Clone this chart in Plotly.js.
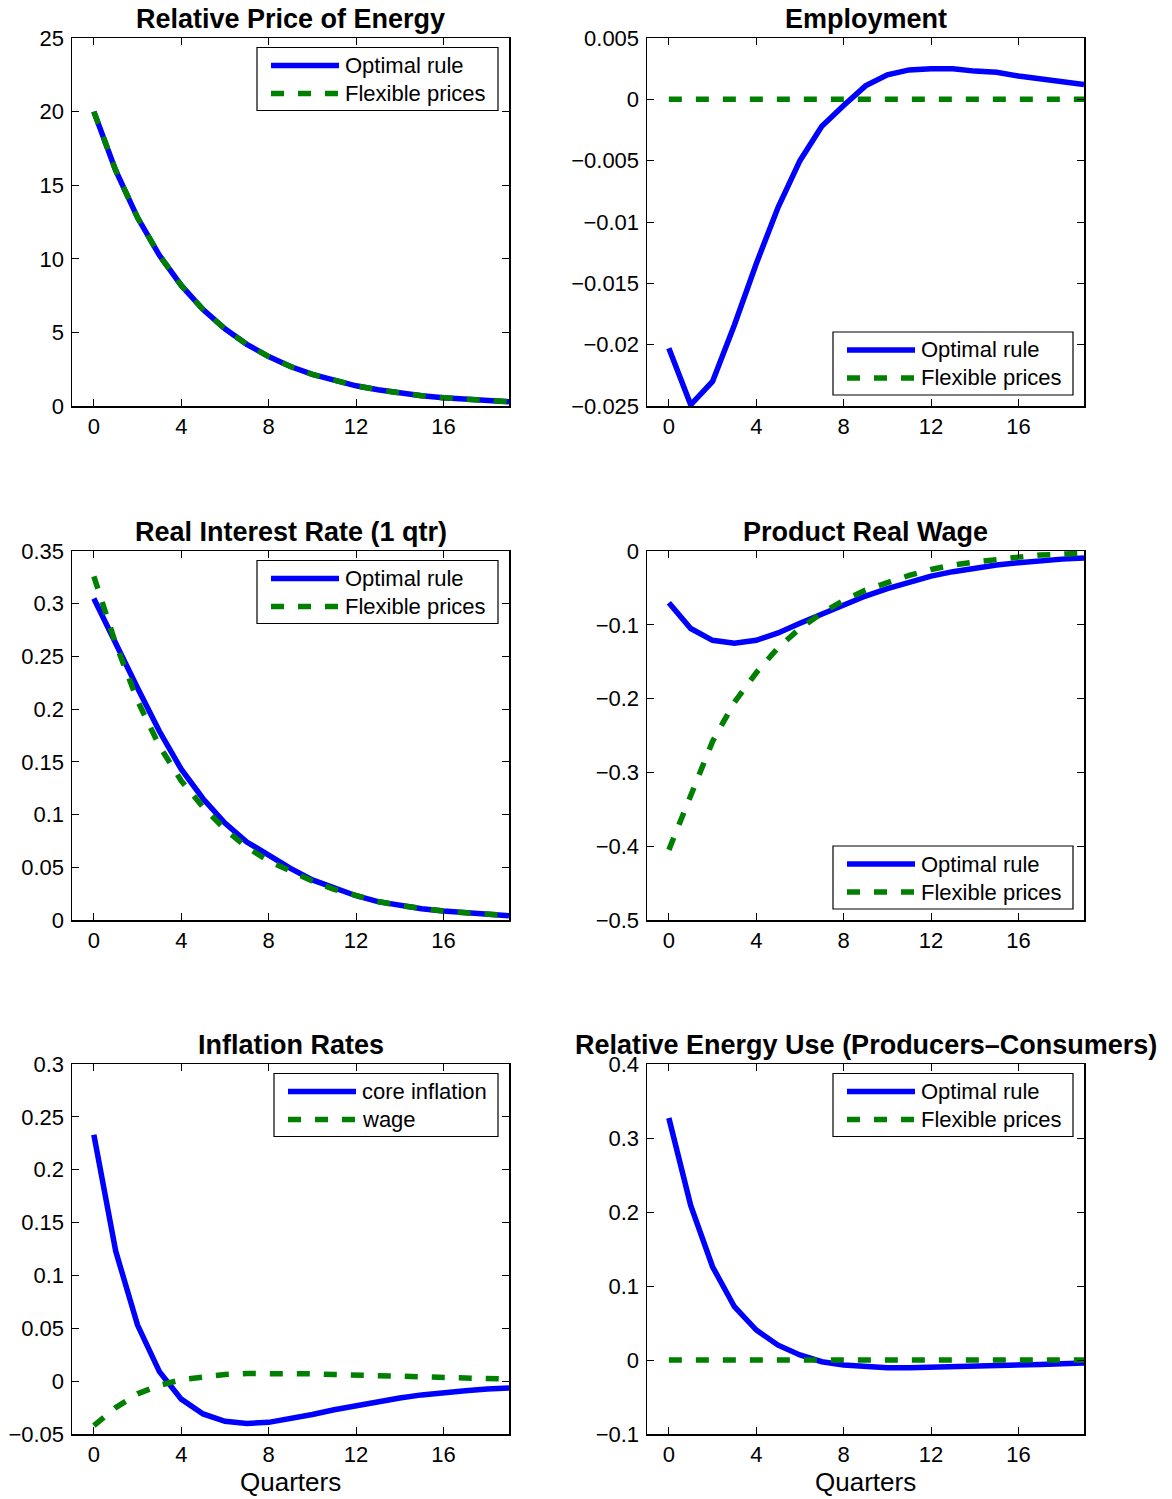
<!DOCTYPE html>
<html>
<head>
<meta charset="utf-8">
<script src="https://cdn.plot.ly/plotly-3.0.1.min.js"></script>
<style>
html,body{margin:0;padding:0;background:#ffffff;}
#chart{width:1172px;height:1499px;}
</style>
</head>
<body>
<div id="chart"></div>
<script>
// ---------------- data ----------------
const quarters = [0,1,2,3,4,5,6,7,8,9,10,11,12,13,14,15,16,17,18,19];

const energyPriceOptimal  = [20.00,16.00,12.80,10.24,8.19,6.55,5.24,4.19,3.36,2.68,2.15,1.72,1.37,1.10,0.88,0.70,0.56,0.45,0.36,0.29];
const energyPriceFlexible = [20.00,16.00,12.80,10.24,8.19,6.55,5.24,4.19,3.36,2.68,2.15,1.72,1.37,1.10,0.88,0.70,0.56,0.45,0.36,0.29];

const employmentOptimal  = [-0.0203,-0.0249,-0.0230,-0.0184,-0.0134,-0.0088,-0.0050,-0.0022,-0.0005,0.0011,0.0020,0.0024,0.0025,0.0025,0.0023,0.0022,0.0019,0.0017,0.0015,0.0012];
const employmentFlexible = [0,0,0,0,0,0,0,0,0,0,0,0,0,0,0,0,0,0,0,0];

const realRateOptimal  = [0.305,0.262,0.220,0.179,0.143,0.115,0.092,0.074,0.061,0.049,0.038,0.030,0.023,0.0174,0.0136,0.0107,0.0085,0.0069,0.0054,0.0041];
const realRateFlexible = [0.326,0.262,0.208,0.165,0.132,0.107,0.086,0.069,0.056,0.046,0.037,0.029,0.023,0.0175,0.0137,0.0107,0.0085,0.0068,0.0054,0.0042];

const realWageOptimal  = [-0.070,-0.105,-0.121,-0.125,-0.121,-0.111,-0.098,-0.085,-0.073,-0.061,-0.051,-0.042,-0.034,-0.028,-0.023,-0.019,-0.016,-0.013,-0.011,-0.0095];
const realWageFlexible = [-0.405,-0.330,-0.258,-0.205,-0.165,-0.131,-0.105,-0.084,-0.067,-0.053,-0.042,-0.033,-0.025,-0.019,-0.015,-0.011,-0.0083,-0.0055,-0.0045,-0.003];

const coreInflation = [0.233,0.123,0.053,0.009,-0.017,-0.031,-0.038,-0.040,-0.039,-0.0355,-0.0315,-0.027,-0.023,-0.019,-0.016,-0.013,-0.0105,-0.009,-0.0075,-0.0065];
const wageInflation = [-0.042,-0.025,-0.012,-0.004,0.0013,0.0044,0.0063,0.0072,0.0075,0.0072,0.0069,0.0063,0.0057,0.0050,0.0044,0.0038,0.0031,0.0026,0.0022,0.0019];

const energyUseOptimal  = [0.327,0.209,0.126,0.072,0.0405,0.020,0.0068,-0.0023,-0.0068,-0.009,-0.0104,-0.0104,-0.0099,-0.0095,-0.0086,-0.0077,-0.0068,-0.006,-0.005,-0.0041];
const energyUseFlexible = [0,0,0,0,0,0,0,0,0,0,0,0,0,0,0,0,0,0,0,0];

const panelTitles = ["Relative Price of Energy","Employment","Real Interest Rate (1 qtr)","Product Real Wage","Inflation Rates","Relative Energy Use (Producers\u2013Consumers)"];
const seriesNamesPolicy = ["Optimal rule","Flexible prices"];
const seriesNamesInflation = ["core inflation","wage"];
const xAxisLabel = "Quarters";

const xTickVals = [0,4,8,12,16];
const xTickText = ["0","4","8","12","16"];

const yTickVals1 = [0,5,10,15,20,25];
const yTickText1 = ["0","5","10","15","20","25"];
const yTickVals2 = [-0.025,-0.02,-0.015,-0.01,-0.005,0,0.005];
const yTickText2 = ["\u22120.025","\u22120.02","\u22120.015","\u22120.01","\u22120.005","0","0.005"];
const yTickVals3 = [0,0.05,0.1,0.15,0.2,0.25,0.3,0.35];
const yTickText3 = ["0","0.05","0.1","0.15","0.2","0.25","0.3","0.35"];
const yTickVals4 = [-0.5,-0.4,-0.3,-0.2,-0.1,0];
const yTickText4 = ["\u22120.5","\u22120.4","\u22120.3","\u22120.2","\u22120.1","0"];
const yTickVals5 = [-0.05,0,0.05,0.1,0.15,0.2,0.25,0.3];
const yTickText5 = ["\u22120.05","0","0.05","0.1","0.15","0.2","0.25","0.3"];
const yTickVals6 = [-0.1,0,0.1,0.2,0.3,0.4];
const yTickText6 = ["\u22120.1","0","0.1","0.2","0.3","0.4"];

// ---------------- layout helpers ----------------
const W = 1172, H = 1499;
const px = v => v / W;
const py = v => 1 - v / H;
const colLeft = [72, 647], colRight = [509, 1084];
const rowTop = [38, 551, 1064], rowBottom = [406, 920, 1434];
const FONT = "Liberation Sans, Arial, Helvetica, sans-serif";
const BLUE = "#0000ff", GREEN = "#008000";
const LW = 5.5;
const DASH = "13px,14px";

const panels = [
  {series:[energyPriceOptimal, energyPriceFlexible], names:seriesNamesPolicy, yr:[0,25], tv:yTickVals1, tt:yTickText1, leg:"top", legW:241},
  {series:[employmentOptimal, employmentFlexible], names:seriesNamesPolicy, yr:[-0.025,0.005], tv:yTickVals2, tt:yTickText2, leg:"bottom", legW:240},
  {series:[realRateOptimal, realRateFlexible], names:seriesNamesPolicy, yr:[0,0.35], tv:yTickVals3, tt:yTickText3, leg:"top", legW:241},
  {series:[realWageOptimal, realWageFlexible], names:seriesNamesPolicy, yr:[-0.5,0], tv:yTickVals4, tt:yTickText4, leg:"bottom", legW:240},
  {series:[coreInflation, wageInflation], names:seriesNamesInflation, yr:[-0.05,0.3], tv:yTickVals5, tt:yTickText5, leg:"top", legW:224},
  {series:[energyUseOptimal, energyUseFlexible], names:seriesNamesPolicy, yr:[-0.1,0.4], tv:yTickVals6, tt:yTickText6, leg:"top", legW:240}
];

const traces = [];
const layout = {
  width: W, height: H,
  margin: {l:0, r:0, t:0, b:0, pad:0},
  paper_bgcolor: "#ffffff",
  plot_bgcolor: "#ffffff",
  showlegend: false,
  font: {family: FONT, color: "#000000", size: 22},
  shapes: [],
  annotations: []
};

panels.forEach((p, i) => {
  const col = i % 2, row = Math.floor(i / 2);
  const s = i === 0 ? "" : String(i + 1);
  const L = colLeft[col], R = colRight[col], T = rowTop[row], B = rowBottom[row];

  layout["xaxis" + s] = {
    domain: [px(L), px(R)], anchor: "y" + s, range: [-1, 19],
    showgrid: false, zeroline: false, showline: true, linecolor: "#000000", linewidth: 1.5,
    mirror: "ticks", ticks: "inside", ticklen: 7, tickwidth: 1, tickcolor: "#000000",
    tickvals: xTickVals, ticktext: xTickText, ticklabelstandoff: 0,
    tickfont: {family: FONT, size: 22, color: "#000000"}, fixedrange: true
  };
  layout["yaxis" + s] = {
    domain: [py(B), py(T)], anchor: "x" + s, range: p.yr,
    showgrid: false, zeroline: false, showline: true, linecolor: "#000000", linewidth: 1.5,
    mirror: "ticks", ticks: "inside", ticklen: 7, tickwidth: 1, tickcolor: "#000000",
    tickvals: p.tv, ticktext: p.tt, ticklabelstandoff: 2,
    tickfont: {family: FONT, size: 22, color: "#000000"}, fixedrange: true
  };

  traces.push({
    x: quarters, y: p.series[0], xaxis: "x" + s, yaxis: "y" + s, mode: "lines", name: p.names[0],
    line: {color: BLUE, width: LW}, hoverinfo: "skip"
  });
  traces.push({
    x: quarters, y: p.series[1], xaxis: "x" + s, yaxis: "y" + s, mode: "lines", name: p.names[1],
    line: {color: GREEN, width: LW, dash: DASH}, hoverinfo: "skip"
  });

  // title
  layout.annotations.push({
    text: "<b>" + panelTitles[i] + "</b>", xref: "paper", yref: "paper",
    x: px((L + R) / 2), y: py(T), xanchor: "center", yanchor: "bottom", yshift: 2,
    showarrow: false, font: {family: FONT, size: 27, color: "#000000"}
  });

  // x axis label on bottom row
  if (row === 2) {
    layout.annotations.push({
      text: xAxisLabel, xref: "paper", yref: "paper",
      x: px((L + R) / 2), y: py(B), xanchor: "center", yanchor: "top", yshift: -31,
      showarrow: false, font: {family: FONT, size: 26, color: "#000000"}
    });
  }

  // legend box
  const boxH = 63;
  const bx1 = R - 11, bx0 = bx1 - p.legW;
  const by0 = p.leg === "top" ? T + 9.5 : B - 11 - boxH;
  const by1 = by0 + boxH;
  layout.shapes.push({
    type: "rect", xref: "paper", yref: "paper",
    x0: px(bx0), x1: px(bx1), y0: py(by1), y1: py(by0),
    fillcolor: "#ffffff", line: {color: "#000000", width: 1.2}, layer: "above"
  });
  const rows = [by0 + 18, by0 + 46];
  const styles = [{color: BLUE, width: LW}, {color: GREEN, width: LW, dash: DASH}];
  rows.forEach((ry, k) => {
    layout.shapes.push({
      type: "line", xref: "paper", yref: "paper",
      x0: px(bx0 + 14), x1: px(bx0 + 82), y0: py(ry), y1: py(ry),
      line: styles[k], layer: "above"
    });
    layout.annotations.push({
      text: p.names[k], xref: "paper", yref: "paper",
      x: px(bx0 + 86), y: py(ry), xanchor: "left", yanchor: "middle",
      showarrow: false, font: {family: FONT, size: 22, color: "#000000"}
    });
  });
});

Plotly.newPlot("chart", traces, layout, {staticPlot: true, displayModeBar: false});
</script>
</body>
</html>
